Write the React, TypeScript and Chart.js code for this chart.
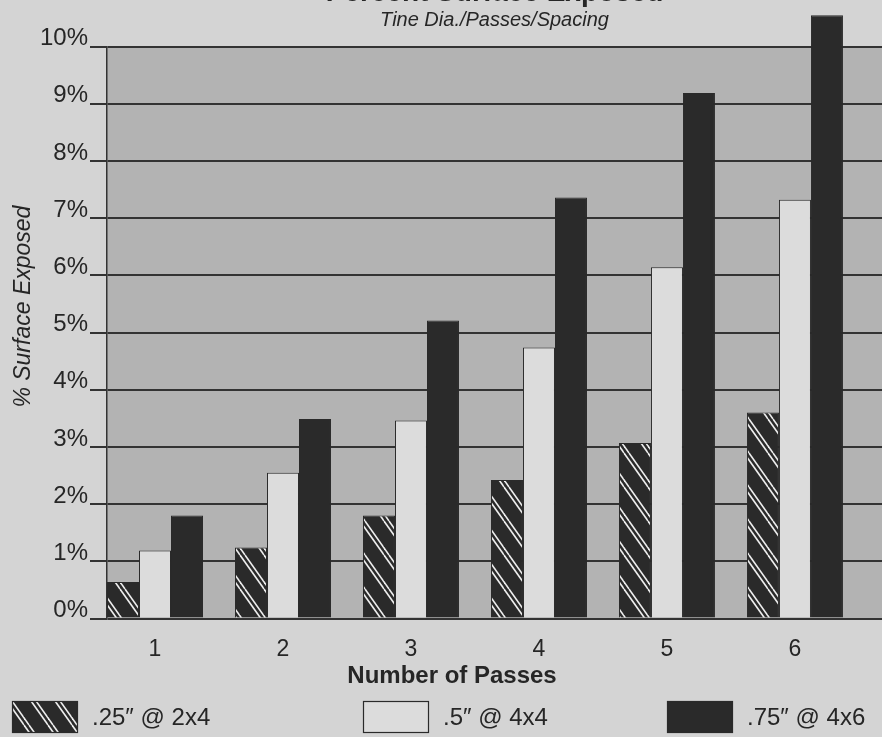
import React, { useEffect, useRef } from 'react';
import { Chart, registerables } from 'chart.js';

Chart.register(...registerables);

// ---- data ----
const passes = [1, 2, 3, 4, 5, 6];
const seriesLabels = ['.25\u2033 @ 2x4', '.5\u2033 @ 4x4', '.75\u2033 @ 4x6'];
const tine025 = [0.64, 1.24, 1.8, 2.42, 3.07, 3.6];
const tine050 = [1.19, 2.55, 3.46, 4.74, 6.14, 7.32];
const tine075 = [1.8, 3.49, 5.21, 7.36, 9.19, 10.55];
const yTickValues = [0, 1, 2, 3, 4, 5, 6, 7, 8, 9, 10];
const titleText = 'Percent Surface Exposed';
const subtitleText = 'Tine Dia./Passes/Spacing';
const xTitleText = 'Number of Passes';
const yTitleText = '% Surface Exposed';

// ---- styles ----
const FONT = "'Liberation Sans', Arial, Helvetica, sans-serif";
const PAGE = '#d4d4d4';
const PLOT = '#b3b3b3';
const LIGHT = '#dcdcdc';
const DARK = '#2a2a2a';
const INK = '#262626';
const LINE = '#333333';

function makeHatch(): CanvasPattern | string {
  const w = 24;
  const h = 34;
  const c = document.createElement('canvas');
  c.width = w;
  c.height = h;
  const g = c.getContext('2d');
  if (!g) return DARK;
  g.fillStyle = DARK;
  g.fillRect(0, 0, w, h);
  g.strokeStyle = '#eeeeee';
  g.lineWidth = 1.6;
  for (const dx of [0, 5]) {
    for (const k of [-1, 0, 1]) {
      g.beginPath();
      g.moveTo(dx + k * w, 0);
      g.lineTo(dx + k * w + w, h);
      g.stroke();
    }
  }
  return g.createPattern(c, 'repeat') || DARK;
}

const decorPlugin = {
  id: 'decor',
  beforeDraw(chart: any) {
    const { ctx, chartArea: a, width, height } = chart;
    ctx.save();
    ctx.fillStyle = PAGE;
    ctx.fillRect(0, 0, width, height);
    ctx.fillStyle = PLOT;
    ctx.fillRect(a.left, a.top, a.right - a.left, a.bottom - a.top);
    ctx.restore();
  },
  afterDraw(chart: any) {
    const { ctx, chartArea: a } = chart;
    ctx.save();
    ctx.fillStyle = INK;
    // x axis title
    ctx.font = `bold 24px ${FONT}`;
    ctx.textAlign = 'center';
    ctx.textBaseline = 'middle';
    ctx.fillText(xTitleText, 452, a.bottom + 58);
    // y axis title
    ctx.save();
    ctx.translate(24, a.top + 260);
    ctx.rotate(-Math.PI / 2);
    ctx.font = `italic 23px ${FONT}`;
    ctx.fillText(yTitleText, 0, 0);
    ctx.restore();
    // legend
    const boxX = [12, 363, 667];
    const top = a.bottom + 82.5;
    ctx.font = `24px ${FONT}`;
    ctx.textAlign = 'left';
    chart.data.datasets.forEach((ds: any, i: number) => {
      const x = boxX[i];
      ctx.fillStyle = ds.backgroundColor;
      ctx.fillRect(x, top, 66, 32);
      ctx.strokeStyle = DARK;
      ctx.lineWidth = 1.2;
      ctx.strokeRect(x + 0.5, top + 0.5, 65, 31);
      ctx.fillStyle = INK;
      ctx.fillText(ds.label, x + 80, top + 17);
    });
    ctx.restore();
  },
};

export default function App() {
  const ref = useRef<HTMLCanvasElement | null>(null);

  useEffect(() => {
    if (!ref.current) return;
    const hatch = makeHatch();
    const toPoints = (vals: number[]) => passes.map((p, i) => ({ x: p, y: vals[i] }));
    const common = {
      borderColor: DARK,
      borderWidth: 1,
      categoryPercentage: 0.75,
      barPercentage: 1,
      clip: false as const,
    };
    const chart = new Chart(ref.current, {
      type: 'bar',
      data: {
        datasets: [
          { label: seriesLabels[0], data: toPoints(tine025), backgroundColor: hatch as any, ...common },
          { label: seriesLabels[1], data: toPoints(tine050), backgroundColor: LIGHT, ...common },
          { label: seriesLabels[2], data: toPoints(tine075), backgroundColor: DARK, ...common },
        ],
      },
      options: {
        animation: false,
        responsive: false,
        devicePixelRatio: 1,
        events: [],
        layout: { padding: { left: 0, right: 0, top: 0, bottom: 0 } },
        plugins: {
          legend: { display: false },
          tooltip: { enabled: false },
          title: {
            display: true,
            text: titleText,
            fullSize: false,
            color: INK,
            font: { family: FONT, size: 28, weight: 'bold' },
            padding: { top: -1, bottom: 1 },
          },
          subtitle: {
            display: true,
            text: subtitleText,
            fullSize: false,
            color: INK,
            font: { family: FONT, size: 20, style: 'italic' },
            padding: { top: -2, bottom: 14 },
          },
        },
        scales: {
          x: {
            type: 'linear',
            min: 0.625,
            max: 6.68,
            offset: false,
            afterBuildTicks: (s: any) => {
              s.ticks = passes.map((v) => ({ value: v }));
            },
            afterFit: (s: any) => {
              s.height = 118.5;
            },
            grid: { display: false, drawTicks: false, offset: false },
            border: { display: false },
            ticks: {
              color: INK,
              font: { family: FONT, size: 23 },
              padding: 17,
              maxRotation: 0,
              callback: (v: any) => String(v),
            },
          },
          y: {
            type: 'linear',
            min: 0,
            max: 10,
            afterBuildTicks: (s: any) => {
              s.ticks = yTickValues.map((v) => ({ value: v }));
            },
            afterFit: (s: any) => {
              s.width = 107;
            },
            grid: { color: LINE, lineWidth: 2, tickLength: 17, drawTicks: true },
            border: { display: true, color: LINE, width: 1.5 },
            ticks: {
              color: INK,
              font: { family: FONT, size: 24 },
              padding: 2,
              labelOffset: -8,
              callback: (v: any) => `${v}%`,
            },
          },
        },
      } as any,
      plugins: [decorPlugin],
    });
    return () => chart.destroy();
  }, []);

  return (
    <div style={{ position: 'fixed', left: 0, top: -23, width: 882, height: 760 }}>
      <canvas ref={ref} width={882} height={760} style={{ display: 'block', width: 882, height: 760 }} />
    </div>
  );
}
